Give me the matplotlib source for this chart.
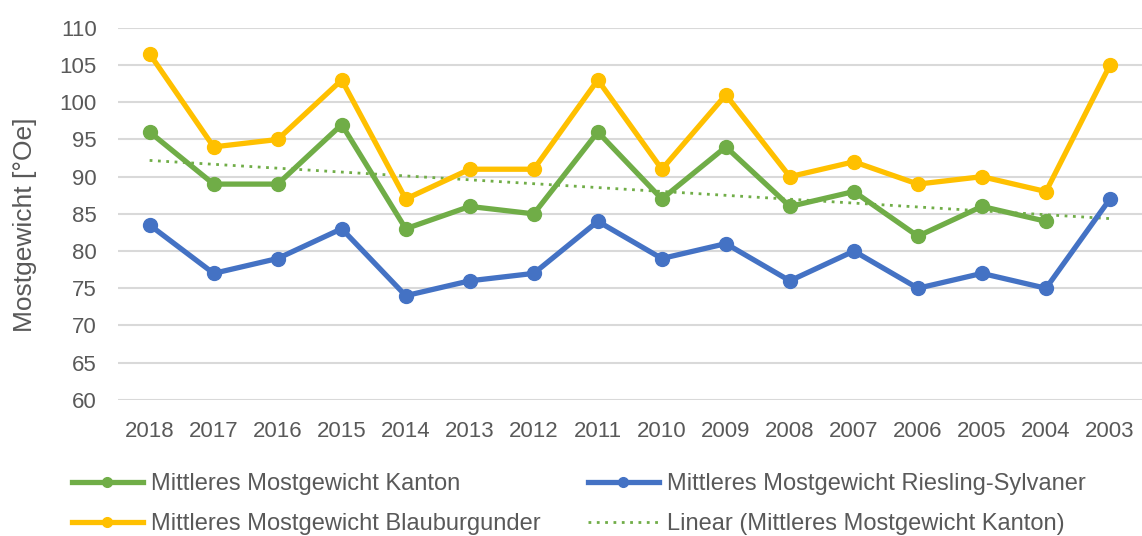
import numpy as np
import matplotlib.pyplot as plt

plt.rcParams['font.family'] = ['Liberation Sans', 'DejaVu Sans']

years = ['2018', '2017', '2016', '2015', '2014', '2013', '2012', '2011',
         '2010', '2009', '2008', '2007', '2006', '2005', '2004', '2003']
kanton = [96, 89, 89, 97, 83, 86, 85, 96, 87, 94, 86, 88, 82, 86, 84, np.nan]
riesling = [83.5, 77, 79, 83, 74, 76, 77, 84, 79, 81, 76, 80, 75, 77, 75, 87]
blauburgunder = [106.5, 94, 95, 103, 87, 91, 91, 103, 91, 101, 90, 92, 89, 90, 88, 105]

green = '#70ad47'
blue = '#4472c4'
yellow = '#ffc000'
grey = '#595959'

# linear trend of the Kanton series (Excel style, x = 1..n)
x = np.arange(len(years))
k = np.array(kanton)
ok = ~np.isnan(k)
coef = np.polyfit(x[ok] + 1, k[ok], 1)
trend = np.polyval(coef, x + 1)

fig = plt.figure(figsize=(11.42, 5.36), dpi=100)
ax = fig.add_axes([0.103, 0.254, 0.897, 0.694])

l1, = ax.plot(x, kanton, color=green, lw=3.8, marker='o', ms=10, label='Mittleres Mostgewicht Kanton', zorder=3)
l2, = ax.plot(x, riesling, color=blue, lw=3.8, marker='o', ms=10, label='Mittleres Mostgewicht Riesling-Sylvaner', zorder=3)
l3, = ax.plot(x, blauburgunder, color=yellow, lw=3.8, marker='o', ms=10, label='Mittleres Mostgewicht Blauburgunder', zorder=3)
l4, = ax.plot(x, trend, color=green, lw=2, ls=(0, (1, 2)), label='Linear (Mittleres Mostgewicht Kanton)', zorder=2)

ax.set_ylim(60, 110)
ax.set_xlim(-0.5, 15.5)
ax.set_yticks(range(60, 111, 5))
ax.set_xticks(x)
ax.set_xticklabels(years)
ax.grid(axis='y', color='#d9d9d9', lw=1.5)
ax.set_axisbelow(True)
for s in ax.spines.values():
    s.set_visible(False)
ax.tick_params(length=0, labelsize=16, labelcolor=grey)
ax.tick_params(axis='x', pad=15)
ax.tick_params(axis='y', pad=15)
ax.set_ylabel('Mostgewicht [°Oe]', fontsize=19, color=grey, labelpad=12)
ax.yaxis.set_label_coords(-0.079, 0.47)

fig.legend(handles=[l1, l3, l2, l4], ncol=2, loc='lower left', bbox_to_anchor=(0.063, 0.002),
           frameon=False, fontsize=17, labelcolor=grey, handlelength=3.0, columnspacing=2.0,
           handletextpad=0.35, labelspacing=0.75, borderpad=0, borderaxespad=0, markerscale=0.7)

fig.savefig('out.png', dpi=100)
